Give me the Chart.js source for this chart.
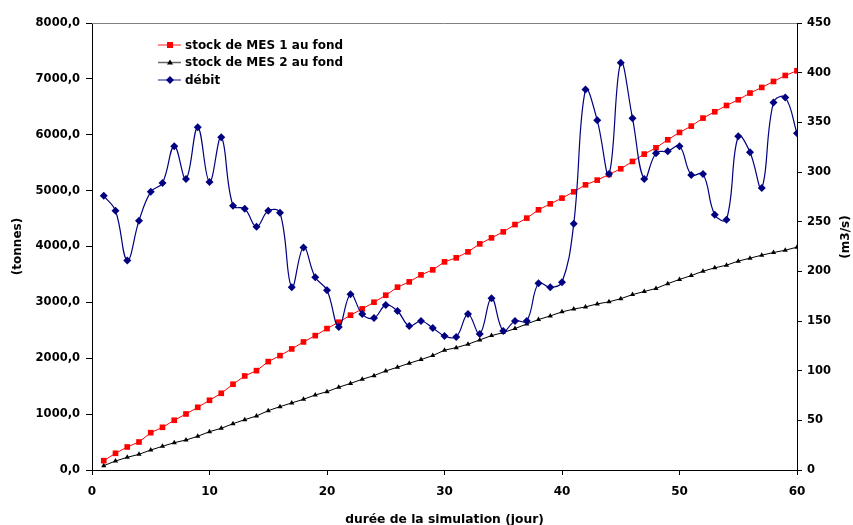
<!DOCTYPE html>
<html>
<head>
<meta charset="utf-8">
<script src="https://cdn.jsdelivr.net/npm/chart.js@4/dist/chart.umd.min.js"></script>
<style>
  html, body { margin: 0; padding: 0; background: #fff; }
  #wrap { width: 853px; height: 525px; }
</style>
</head>
<body>
<div id="wrap"><canvas id="chart" width="853" height="525"></canvas></div>
<script>
// Données (jour 1 à 60)
const jours = [1, 2, 3, 4, 5, 6, 7, 8, 9, 10, 11, 12, 13, 14, 15, 16, 17, 18, 19, 20,
  21, 22, 23, 24, 25, 26, 27, 28, 29, 30, 31, 32, 33, 34, 35, 36, 37, 38, 39, 40,
  41, 42, 43, 44, 45, 46, 47, 48, 49, 50, 51, 52, 53, 54, 55, 56, 57, 58, 59, 60];

const stockMes1 = [167, 299, 412, 501, 668, 764, 890, 1003, 1122, 1248,
  1373, 1535, 1683, 1778, 1940, 2047, 2167, 2292, 2405, 2531,
  2645, 2771, 2883, 3003, 3128, 3272, 3367, 3492, 3582, 3725,
  3797, 3904, 4047, 4155, 4262, 4393, 4508, 4656, 4764, 4866,
  4979, 5104, 5188, 5289, 5391, 5522, 5654, 5767, 5910, 6041,
  6155, 6298, 6411, 6524, 6626, 6746, 6847, 6954, 7061, 7145];

const stockMes2 = [77, 161, 227, 281, 358, 424, 489, 537, 603, 686,
  746, 829, 901, 967, 1062, 1134, 1200, 1266, 1343, 1402,
  1481, 1550, 1624, 1689, 1773, 1839, 1911, 1976, 2047, 2144,
  2190, 2251, 2328, 2405, 2459, 2531, 2614, 2692, 2758, 2830,
  2880, 2919, 2973, 3010, 3066, 3139, 3195, 3249, 3335, 3410,
  3480, 3558, 3618, 3666, 3738, 3791, 3845, 3892, 3934, 3988];

const debit = [276, 261, 211, 251, 280, 289, 326, 293, 345, 290,
  335, 266, 263, 245, 261, 259, 184, 224, 194, 181,
  144, 177, 157, 153, 166, 160, 145, 150, 143, 135,
  134, 157, 137, 173, 140, 150, 150, 188, 184, 189,
  248, 383, 352, 298, 410, 354, 293, 319, 321, 326,
  297, 298, 257, 252, 336, 320, 284, 370, 375, 339];

const nomsSeries = ['stock de MES 1 au fond', 'stock de MES 2 au fond', 'débit'];
const titreX = 'durée de la simulation (jour)';
const titreY = '(tonnes)';
const titreY2 = '(m3/s)';

const ROUGE = '#FF0000';
const NOIR = '#000000';
const MARINE = '#000080';
const FONT = '"DejaVu Sans", sans-serif';

const pts = vals => vals.map((v, i) => ({ x: jours[i], y: v }));

// petits marqueurs pour la légende
function marqueur(ctx, style, x, y, color) {
  ctx.fillStyle = color;
  ctx.beginPath();
  if (style === 'rect') {
    ctx.rect(x - 3, y - 3, 6, 6);
  } else if (style === 'triangle') {
    ctx.moveTo(x, y - 3); ctx.lineTo(x + 3, y + 2); ctx.lineTo(x - 3, y + 2); ctx.closePath();
  } else {
    ctx.moveTo(x, y - 4); ctx.lineTo(x + 4, y); ctx.lineTo(x, y + 4); ctx.lineTo(x - 4, y); ctx.closePath();
  }
  ctx.fill();
}

const decor = {
  id: 'decor',
  afterDraw(chart) {
    const { ctx, chartArea: a } = chart;
    ctx.save();
    // bord supérieur gris
    ctx.strokeStyle = '#808080';
    ctx.lineWidth = 1;
    ctx.beginPath();
    ctx.moveTo(a.left, a.top + 0.5);
    ctx.lineTo(a.right, a.top + 0.5);
    ctx.stroke();

    // titres des axes
    ctx.fillStyle = '#000';
    ctx.font = 'bold 12.3px ' + FONT;
    ctx.textAlign = 'center';
    ctx.textBaseline = 'middle';
    ctx.fillText(titreX, (a.left + a.right) / 2, 520);

    ctx.font = 'bold 12px ' + FONT;
    ctx.save();
    ctx.translate(18, (a.top + a.bottom) / 2);
    ctx.rotate(-Math.PI / 2);
    ctx.fillText(titreY, 0, 0);
    ctx.restore();

    ctx.save();
    ctx.translate(846, 237);
    ctx.rotate(-Math.PI / 2);
    ctx.fillText(titreY2, 0, 0);
    ctx.restore();

    // légende manuelle
    const items = [
      { label: nomsSeries[0], color: ROUGE, style: 'rect' },
      { label: nomsSeries[1], color: NOIR, style: 'triangle' },
      { label: nomsSeries[2], color: MARINE, style: 'diamond' },
    ];
    const rows = [45, 62.5, 80];
    ctx.textAlign = 'left';
    items.forEach((it, i) => {
      const y = rows[i];
      ctx.strokeStyle = it.color;
      ctx.globalAlpha = 0.6;
      ctx.lineWidth = 1.5;
      ctx.beginPath();
      ctx.moveTo(158, y);
      ctx.lineTo(181, y);
      ctx.stroke();
      ctx.globalAlpha = 1;
      marqueur(ctx, it.style, 170, y, it.color);
      ctx.fillStyle = '#000';
      ctx.fillText(it.label, 185, y + 0.5);
    });
    ctx.restore();
  }
};

const tickFontY = { family: FONT, size: 11.5, weight: 'bold' };
const tickFontX = { family: FONT, size: 12, weight: 'bold' };

new Chart(document.getElementById('chart').getContext('2d'), {
  type: 'line',
  data: {
    datasets: [
      {
        label: nomsSeries[2],
        data: pts(debit),
        yAxisID: 'y2',
        borderColor: MARINE,
        backgroundColor: MARINE,
        borderWidth: 1.2,
        pointStyle: 'rectRot',
        pointRadius: 4,
        pointBorderWidth: 0,
        tension: 0.4,
        order: 0,
      },
      {
        label: nomsSeries[0],
        data: pts(stockMes1),
        yAxisID: 'y',
        borderColor: ROUGE,
        backgroundColor: ROUGE,
        borderWidth: 1,
        pointStyle: 'rect',
        pointRadius: 4,
        pointBorderWidth: 0,
        tension: 0,
        order: 1,
      },
      {
        label: nomsSeries[1],
        data: pts(stockMes2),
        yAxisID: 'y',
        borderColor: NOIR,
        backgroundColor: NOIR,
        borderWidth: 1,
        pointStyle: 'triangle',
        pointRadius: 3,
        pointBorderWidth: 0,
        tension: 0,
        order: 2,
      },
    ]
  },
  options: {
    responsive: false,
    animation: false,
    layout: { padding: { top: 23, left: 0, right: 0, bottom: 0 } },
    plugins: {
      legend: { display: false },
      tooltip: { enabled: false },
    },
    scales: {
      x: {
        type: 'linear',
        min: 0, max: 60,
        afterFit: s => { s.height = 55; },
        border: { color: NOIR, width: 1 },
        grid: { drawOnChartArea: false, drawTicks: true, tickLength: 5, color: NOIR },
        ticks: { stepSize: 10, font: tickFontX, color: NOIR, padding: 10, maxRotation: 0 },
      },
      y: {
        position: 'left',
        min: 0, max: 8000,
        afterFit: s => { s.width = 92; },
        border: { color: NOIR, width: 1 },
        grid: { drawOnChartArea: false, drawTicks: true, tickLength: 6, color: NOIR },
        ticks: {
          stepSize: 1000, font: tickFontY, color: NOIR, padding: 6,
          callback: v => v.toFixed(1).replace('.', ',')
        },
      },
      y2: {
        position: 'right',
        min: 0, max: 450,
        afterFit: s => { s.width = 56; },
        border: { color: NOIR, width: 1 },
        grid: { drawOnChartArea: false, drawTicks: true, tickLength: 5, color: NOIR },
        ticks: { stepSize: 50, font: tickFontY, color: NOIR, padding: 5 },
      },
    }
  },
  plugins: [decor]
});
</script>
</body>
</html>
